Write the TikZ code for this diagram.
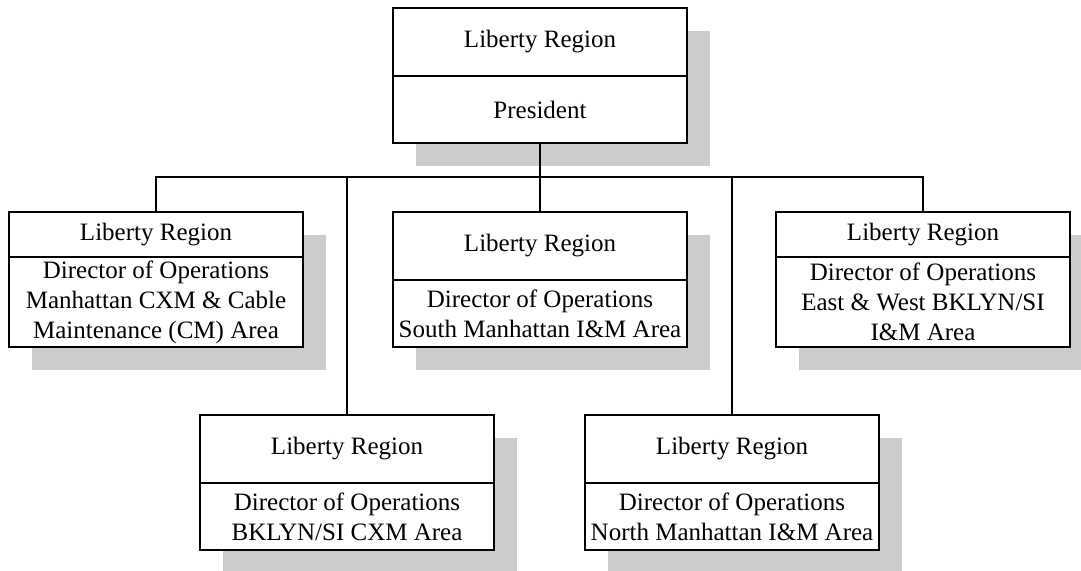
\documentclass[tikz,border=0pt]{standalone}
\usepackage{fontspec}
\setmainfont{Liberation Serif}
\definecolor{shadowgray}{RGB}{204,204,204}
\tikzset{
  cell/.style={draw=black, line width=1.8pt, fill=white, minimum width=294pt,
    minimum height=#1, inner sep=0pt, outer sep=0pt, anchor=north west,
    align=center, font=\fontsize{25}{30}\selectfont},
  shade/.style={fill=shadowgray},
  conn/.style={draw=black, line width=1.8pt},
}
\begin{document}
\begin{tikzpicture}[x=1pt,y=-1pt]
\clip (0,0) rectangle (1081,570);
\fill[white] (0,0) rectangle (1081,570);
% shadows
\fill[shade] (416,31) rectangle (710,166);
\fill[shade] (32,235) rectangle (326,370);
\fill[shade] (416,235) rectangle (710,370);
\fill[shade] (799,235) rectangle (1093,370);
\fill[shade] (223,438) rectangle (517,573);
\fill[shade] (608,438) rectangle (902,573);
% top
\node[cell=68pt] (ph) at (393,8) {Liberty Region};
\node[cell=67pt] (pb) at (ph.south west) {President};
% row 2
\node[cell=45pt] (h1) at (9,212) {Liberty Region};
\node[cell=90pt] (b1) at (h1.south west) {Director of Operations\\Manhattan CXM \& Cable\\Maintenance (CM) Area};
\node[cell=68pt] (h3) at (393,212) {Liberty Region};
\node[cell=67pt] (b3) at (h3.south west) {Director of Operations\\South Manhattan I\&M Area};
\node[cell=45pt] (h5) at (776,212) {Liberty Region};
\node[cell=90pt] (b5) at (h5.south west) {Director of Operations\\East \& West BKLYN/SI\\I\&M Area};
% row 3
\node[cell=68pt] (h2) at (200,415) {Liberty Region};
\node[cell=67pt] (b2) at (h2.south west) {Director of Operations\\BKLYN/SI CXM Area};
\node[cell=68pt] (h4) at (585,415) {Liberty Region};
\node[cell=67pt] (b4) at (h4.south west) {Director of Operations\\North Manhattan I\&M Area};
% connectors
\coordinate (bus) at (0,177);
\draw[conn, line width=2.6pt] (pb.south) -- (pb.south |- bus);
\draw[conn] (h1.north) -- (h1.north |- bus) -- (h5.north |- bus) -- (h5.north);
\draw[conn] (h2.north |- bus) -- (h2.north);
\draw[conn] (h3.north |- bus) -- (h3.north);
\draw[conn] (h4.north |- bus) -- (h4.north);
\end{tikzpicture}
\end{document}
